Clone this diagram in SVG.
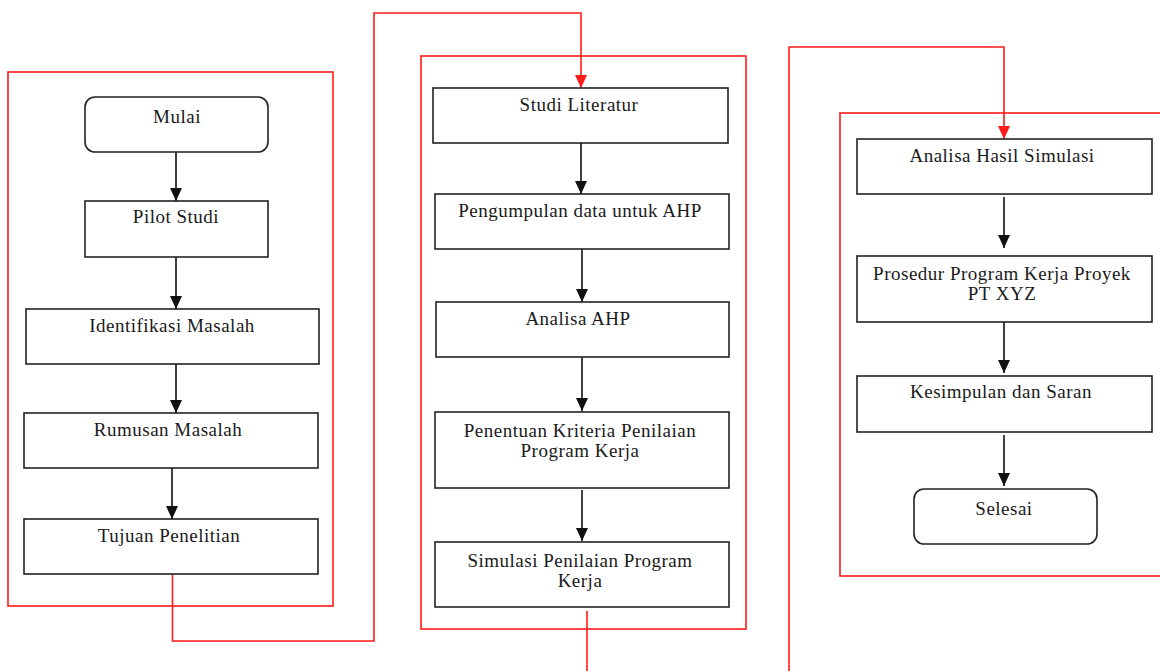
<svg xmlns="http://www.w3.org/2000/svg" width="1160" height="671" viewBox="0 0 1160 671">
<style>
.box{fill:#fff;stroke:#222;stroke-width:1.6}
.frame{fill:none;stroke:#ff1a1a;stroke-width:1.6}
.t{font-family:"Liberation Serif","Times New Roman",serif;font-size:19px;letter-spacing:0.5px;fill:#1a1a1a;text-anchor:middle}
.blk{fill:none;stroke:#111;stroke-width:1.6}
.red{fill:none;stroke:#ff1a1a;stroke-width:1.6}
</style>
<defs>
<marker id="ab" viewBox="0 0 13 12" refX="13" refY="6" markerWidth="13" markerHeight="12" markerUnits="userSpaceOnUse" orient="auto"><path d="M0,0 L13,6 L0,12 z" fill="#111"/></marker>
<marker id="ar" viewBox="0 0 13 12" refX="13" refY="6" markerWidth="13" markerHeight="12" markerUnits="userSpaceOnUse" orient="auto"><path d="M0,0 L13,6 L0,12 z" fill="#ff1a1a"/></marker>
</defs>
<rect width="1160" height="671" fill="#fff"/>
<g id="frames">
<rect class="frame" x="8" y="72" width="325" height="534"/>
<rect class="frame" x="421" y="56" width="325" height="573"/>
<rect class="frame" x="840" y="113" width="330" height="463"/>
</g>
<g id="connectors">
<line class="blk" x1="176" y1="152" x2="176" y2="201" marker-end="url(#ab)"/>
<line class="blk" x1="176" y1="257" x2="176" y2="309" marker-end="url(#ab)"/>
<line class="blk" x1="176" y1="364" x2="176" y2="413" marker-end="url(#ab)"/>
<line class="blk" x1="172" y1="468" x2="172" y2="519" marker-end="url(#ab)"/>
<line class="blk" x1="581" y1="143" x2="581" y2="194" marker-end="url(#ab)"/>
<line class="blk" x1="582" y1="249" x2="582" y2="302" marker-end="url(#ab)"/>
<line class="blk" x1="582" y1="357" x2="582" y2="411" marker-end="url(#ab)"/>
<line class="blk" x1="582" y1="490" x2="582" y2="541" marker-end="url(#ab)"/>
<line class="blk" x1="1004" y1="197" x2="1004" y2="248" marker-end="url(#ab)"/>
<line class="blk" x1="1004" y1="322" x2="1004" y2="373" marker-end="url(#ab)"/>
<line class="blk" x1="1004" y1="435" x2="1004" y2="486" marker-end="url(#ab)"/>
<path class="red" d="M172.5 574 V641 H374 V13 H581 V88" marker-end="url(#ar)"/>
<path class="red" d="M587 611 V671"/>
<path class="red" d="M789 671 V47 H1004 V139" marker-end="url(#ar)"/>
</g>
<g id="mulai"><rect class="box" x="85" y="97" width="183" height="55" rx="10"/><text class="t" x="177" y="123">Mulai</text></g>
<g id="pilot"><rect class="box" x="85" y="201" width="183" height="56"/><text class="t" x="176" y="223">Pilot Studi</text></g>
<g id="identifikasi"><rect class="box" x="26" y="309" width="293" height="55"/><text class="t" x="172" y="332">Identifikasi Masalah</text></g>
<g id="rumusan"><rect class="box" x="24" y="413" width="294" height="55"/><text class="t" x="168" y="436">Rumusan Masalah</text></g>
<g id="tujuan"><rect class="box" x="24" y="519" width="294" height="55"/><text class="t" x="169" y="542">Tujuan Penelitian</text></g>
<g id="studi"><rect class="box" x="433" y="88" width="295" height="55"/><text class="t" x="579" y="111">Studi Literatur</text></g>
<g id="pengumpulan"><rect class="box" x="435" y="194" width="294" height="55"/><text class="t" x="580" y="217">Pengumpulan data untuk AHP</text></g>
<g id="analisa-ahp"><rect class="box" x="436" y="302" width="293" height="55"/><text class="t" x="578" y="325">Analisa AHP</text></g>
<g id="penentuan"><rect class="box" x="435" y="412" width="294" height="76"/><text class="t" x="580" y="437">Penentuan Kriteria Penilaian</text><text class="t" x="580" y="457">Program Kerja</text></g>
<g id="simulasi"><rect class="box" x="435" y="542" width="294" height="65"/><text class="t" x="580" y="567">Simulasi Penilaian Program</text><text class="t" x="580" y="587">Kerja</text></g>
<g id="analisa-hasil"><rect class="box" x="857" y="139" width="295" height="55"/><text class="t" x="1002" y="162">Analisa Hasil Simulasi</text></g>
<g id="prosedur"><rect class="box" x="857" y="256" width="295" height="66"/><text class="t" x="1002" y="280">Prosedur Program Kerja Proyek</text><text class="t" x="1002" y="300">PT XYZ</text></g>
<g id="kesimpulan"><rect class="box" x="857" y="376" width="295" height="56"/><text class="t" x="1001" y="398">Kesimpulan dan Saran</text></g>
<g id="selesai"><rect class="box" x="914" y="489" width="183" height="55" rx="10"/><text class="t" x="1004" y="515">Selesai</text></g>
</svg>
